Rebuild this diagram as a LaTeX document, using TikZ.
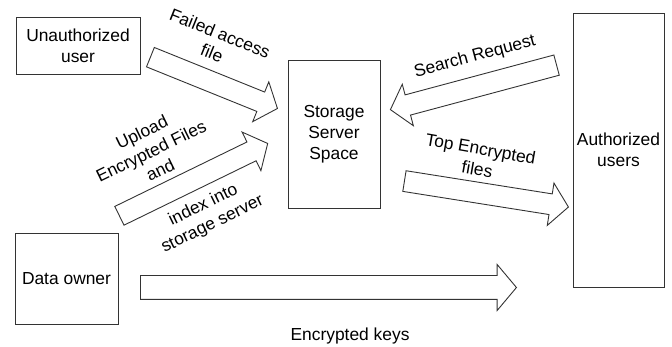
\documentclass[tikz,border=0pt]{standalone}
\usepackage{fontspec}
\setmainfont{Liberation Sans}
\usetikzlibrary{shapes.arrows}

\begin{document}
\begin{tikzpicture}[x=1pt,y=-1pt,
  every node/.style={font=\fontsize{17.4}{21}\selectfont},
  box/.style={draw=black!80, line width=0.9pt, align=center, inner sep=0pt},
  bigarrow/.style={draw=black!80, line width=0.9pt, single arrow,
    single arrow head extend=11pt, single arrow tip angle=100,
    inner xsep=0pt, inner ysep=10pt, anchor=tail},
  lbl/.style={align=center, inner sep=0pt}]
  \useasboundingbox (0,0) rectangle (672,347);

  % boxes
  \node[box, minimum width=124pt, minimum height=57pt] (unauth) at (78,45.5) {Unauthorized\\user};
  \node[box, minimum width=92pt, minimum height=148pt] (storage) at (334,134) {Storage\\Server\\Space};
  \node[box, minimum width=91pt, minimum height=274pt] (authusers) at (618.5,150) {Authorized\\users};
  \node[box, minimum width=103pt, minimum height=91pt] (owner) at (66.5,278.5) {Data owner};

  % arrows
  \node[bigarrow, minimum height=137pt, rotate=-22] (failarr) at (150,57) {};
  \node[bigarrow, minimum height=165pt, rotate=26] (uploadarr) at (119,216) {};
  \node[bigarrow, minimum height=172pt, rotate=195] (searcharr) at (557,65) {};
  \node[bigarrow, minimum height=166pt, rotate=-9] (toparr) at (404,181) {};
  \node[bigarrow, minimum height=376pt, inner ysep=11.5pt] (keysarr) at (140,287.5) {};

  % labels
  \node[lbl, rotate=-22] (failtext) at (216,43) {Failed access\\file};
  \node[lbl, rotate=15] (searchtext) at (475,57) {Search Request};
  \node[lbl, rotate=-10] (toptext) at (479,159) {Top Encrypted\\files};
  \node[lbl, rotate=26] (uploadtext) at (151,151) {Upload\\Encrypted Files\\and};
  \node[lbl, rotate=26] (indextext) at (208,215) {index into\\storage server};
  \node[lbl] (keystext) at (350,336) {Encrypted keys};
\end{tikzpicture}
\end{document}
